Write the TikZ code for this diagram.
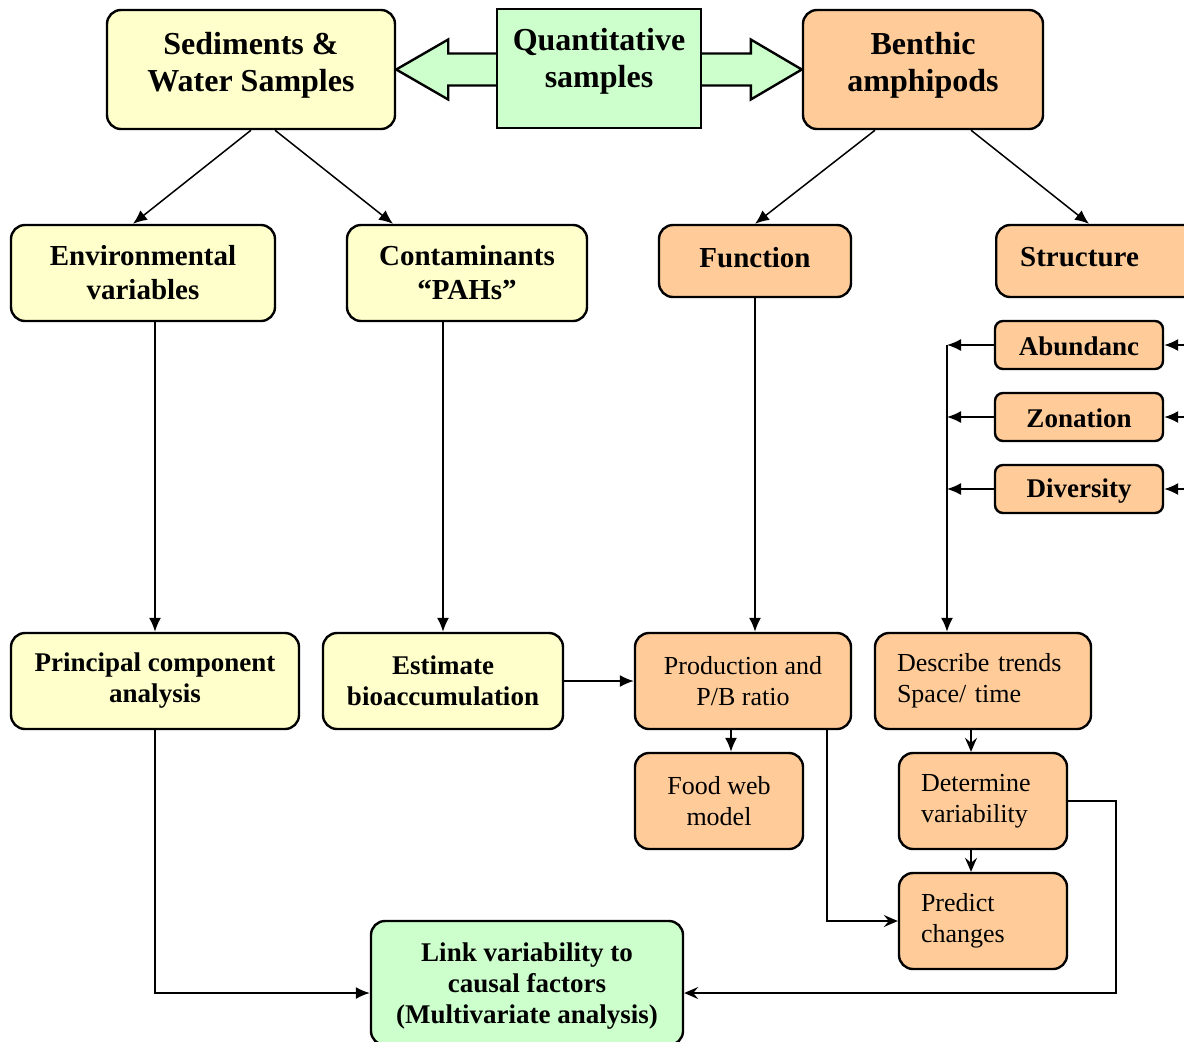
\documentclass[tikz,border=0pt]{standalone}
\usepackage{fontspec}
\setmainfont{Liberation Serif}
\usetikzlibrary{arrows.meta,calc}

\definecolor{sedyellow}{HTML}{FFFFCC}
\definecolor{amphorange}{HTML}{FFCC99}
\definecolor{quantgreen}{HTML}{CCFFCC}

\tikzset{
  box/.style={draw, line width=1.2pt, rounded corners=7pt, align=center, inner sep=2pt},
  ybox/.style={box, fill=sedyellow},
  obox/.style={box, fill=amphorange},
  gbox/.style={box, fill=quantgreen},
  big/.style={font=\fontsize{16}{18.5}\selectfont\bfseries},
  mid/.style={font=\fontsize{14.5}{17}\selectfont\bfseries},
  small/.style={font=\fontsize{13.5}{15.5}\selectfont\bfseries},
  plain/.style={font=\fontsize{13}{15.5}\selectfont},
  link/.style={-{Latex[length=7pt,width=6pt]}, line width=0.75pt},
  slink/.style={-{Stealth[length=7pt,width=6pt,inset=2.5pt]}, line width=0.75pt}
}

\begin{document}
\begin{tikzpicture}[x=0.5pt,y=-0.5pt]
\useasboundingbox (0,0) rectangle (1184,1041);
\clip (0,0) rectangle (1184,1041);

% top row
\node[ybox, big, text depth=7.5pt, minimum width=144pt, minimum height=59.5pt] (sed) at (251,69.5) {Sediments \&\\Water Samples};
\node[obox, big, text depth=7.5pt, minimum width=120pt, minimum height=59.5pt] (benthic) at (923,69.5) {Benthic\\amphipods};

\draw[fill=quantgreen, line width=1.2pt] (sed.east) -- ++(52,-30) -- ++(0,14)
  -- ($(benthic.west)+(-51,-16)$) -- ++(0,-14) -- (benthic.west) -- ++(-51,30) -- ++(0,-14)
  -- ($(sed.east)+(52,16)$) -- ++(0,14) -- cycle;
\node[draw, fill=quantgreen, line width=1.2pt, align=center, big, text depth=10.5pt, minimum width=102pt, minimum height=59.5pt] (quant) at (599,68.5) {Quantitative\\samples};

% second row
\node[ybox, mid, minimum width=132pt, minimum height=48pt] (env) at (143,273) {Environmental\\variables};
\node[ybox, mid, minimum width=120pt, minimum height=48pt] (cont) at (467,273) {Contaminants\\``PAHs''};
\node[obox, mid, text depth=4pt, minimum width=96pt, minimum height=36pt] (func) at (755,261) {Function};
\node[obox, mid, text depth=4pt, align=left, text width=96pt, inner xsep=12pt, minimum height=36pt, anchor=west] (struct) at (995,261) {Structure};

% structure parts
\node[obox, small, rounded corners=4pt, text height=11pt, minimum width=84pt, minimum height=24pt] (abund) at (1079,345) {Abundanc};
\node[obox, small, rounded corners=4pt, text height=11pt, minimum width=84pt, minimum height=24pt] (zon) at (1079,417) {Zonation};
\node[obox, small, rounded corners=4pt, text height=11pt, minimum width=84pt, minimum height=24pt] (div) at (1079,489) {Diversity};
\coordinate (bus) at (947,345);
\coordinate (rim) at (1190,0);

% third row
\node[ybox, small, minimum width=144pt, minimum height=48pt] (pca) at (155,681) {Principal component\\analysis};
\node[ybox, small, minimum width=120pt, minimum height=48pt] (est) at (443,681) {Estimate\\bioaccumulation};
\node[obox, plain, minimum width=108pt, minimum height=48pt] (prod) at (743,681) {Production and\\P/B ratio};
\node[obox, plain, align=left, text width=86pt, inner xsep=11pt, minimum height=48pt] (desc) at (983,681) {Describe trends\\Space/ time};

% lower boxes
\node[obox, plain, minimum width=84pt, minimum height=48pt] (food) at (719,801) {Food web\\model};
\node[obox, plain, align=left, text width=62pt, inner xsep=11pt, minimum height=48pt] (det) at (983,801) {Determine\\variability};
\node[obox, plain, align=left, text width=62pt, inner xsep=11pt, minimum height=48pt] (pred) at (983,921) {Predict\\changes};
\node[gbox, small, text height=43.5pt, minimum width=156pt, minimum height=62pt] (link) at (527,983) {Link variability to\\causal factors\\(Multivariate analysis)};

% connectors
\draw[link] (sed.south) -- ([xshift=-5pt]env.north);
\draw[link] ([xshift=12pt]sed.south) -- ([xshift=-37pt]cont.north);
\draw[link] ([xshift=-24pt]benthic.south) -- (func.north);
\draw[link] ([xshift=24pt]benthic.south) -- (struct.north west -| 1089,0);

\draw[link] (env.south -| pca.north) -- (pca.north);
\draw[link] (cont.south -| est.north) -- (est.north);
\draw[link] (func.south) -- (func.south |- prod.north);

\foreach \part in {abund, zon, div} {
  \draw[link] (\part.west) -- (\part.west -| bus);
  \draw[link] (rim |- \part.east) -- (\part.east);
}
\draw[link] (bus) -- (bus |- desc.north);

\draw[link] (est.east) -- (prod.west);
\draw[link] ([xshift=6pt]food.north |- prod.south) -- ([xshift=6pt]food.north);
\draw[slink] ([xshift=-6pt]det.north |- desc.south) -- ([xshift=-6pt]det.north);
\draw[slink] ([xshift=-6pt]det.south) -- ([xshift=-6pt]pred.north);
\draw[slink] ([xshift=42pt]prod.south) |- (pred.west);
\draw[slink] (det.east) -- ++(48,0) |- ([yshift=-5pt]link.east);
\draw[link] (pca.south) |- ([yshift=-5pt]link.west);
\end{tikzpicture}
\end{document}
